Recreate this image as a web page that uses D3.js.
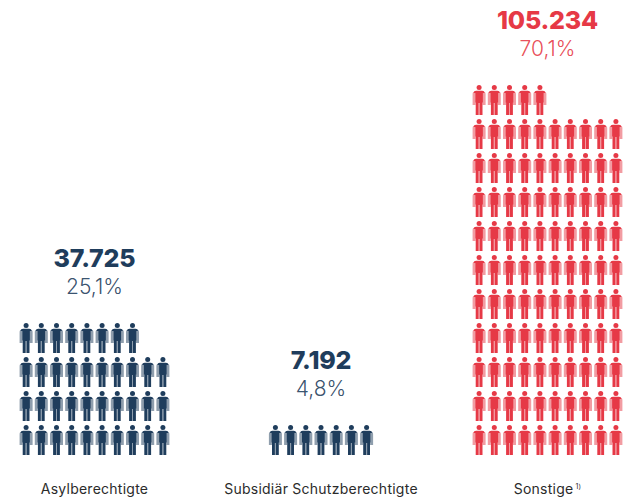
<!DOCTYPE html>
<html lang="de">
<head>
<meta charset="utf-8">
<script src="https://cdn.jsdelivr.net/npm/d3@7"></script>
<style>
  html, body { margin: 0; padding: 0; background: #fff; }
  svg { display: block; }
  text { font-family: Inter, "Noto Sans", sans-serif; text-anchor: middle; }
</style>
</head>
<body>
<svg id="chart" width="624" height="497"></svg>
<script>
// Schutzstatus: Personen je Gruppe, ein Piktogramm steht für rund 1.000 Personen
const categories = ["Asylberechtigte", "Subsidiär Schutzberechtigte", "Sonstige"];
const counts = [37725, 7192, 105234];
const countLabels = ["37.725", "7.192", "105.234"];
const shareLabels = ["25,1%", "4,8%", "70,1%"];
const groupColors = ["#1f3d5c", "#1f3d5c", "#e63946"];
const peoplePerIcon = 1000;
const iconsPerRow = 10;

const svg = d3.select("#chart");
const rowBottom = 455;   // Unterkante der untersten Piktogrammreihe
const iconH = 30, iconW = 13;

// Mittelachse je Gruppe
const groupX = d3.scalePoint().domain(d3.range(categories.length))
  .range([94.5, 547.5]);
// Position innerhalb einer Reihe und Reihenindex von unten
const colX = d3.scaleLinear().domain([0, 1]).range([0, 15.2]);
const rowY = d3.scaleLinear().domain([0, 1]).range([rowBottom - iconH, rowBottom - iconH - 34]);

// Piktogramm: helle Arme und Beinspalt, dunkler Körper mit Schulterbogen
function person(g, color) {
  g.append("path").attr("fill", color).attr("fill-opacity", 0.5)
    .attr("d", "M0 9 Q0 6.4 2.4 6.4 H3 V20 H0 Z M10 6.4 H10.6 Q13 6.4 13 9 V20 H10 Z M6 17 H7 V30 H6 Z");
  g.append("circle").attr("cx", 6.5).attr("cy", 2.5).attr("r", 2.5).attr("fill", color);
  g.append("path").attr("fill", color)
    .attr("d", "M1 8 Q1.2 5.8 3.4 5.8 H9.6 Q11.8 5.8 12 8 H10.3 V17.5 H9.9 V30 H7 V18 H6 V30 H3.1 V17.5 H2.7 V8 Z");
}

categories.forEach((cat, i) => {
  const n = Math.round(counts[i] / peoplePerIcon);
  const color = groupColors[i];
  const rows = Math.ceil(n / iconsPerRow);
  const rowLen = Math.min(n, iconsPerRow);
  // Die unterste Reihe ist um die Mittelachse der Gruppe zentriert
  const startX = groupX(i) - (colX(rowLen - 1) + iconW) / 2;

  const g = svg.append("g").attr("class", "group");
  g.selectAll("g.icon").data(d3.range(n)).join("g")
    .attr("class", "icon")
    .attr("transform", d => {
      const row = Math.floor(d / iconsPerRow), col = d % iconsPerRow;
      return `translate(${startX + colX(col)},${rowY(row)})`;
    })
    .each(function () { person(d3.select(this), color); });

  const topY = rowY(rows - 1);
  g.append("text").attr("x", groupX(i)).attr("y", topY - 56)
    .attr("font-size", 25).attr("font-weight", 800).attr("fill", color)
    .attr("letter-spacing", "-0.2").text(countLabels[i]);
  g.append("text").attr("x", groupX(i)).attr("y", topY - 29)
    .attr("font-size", 21).attr("font-weight", 300).attr("fill", color)
    .attr("fill-opacity", 0.9).text(shareLabels[i]);

  const label = g.append("text").attr("x", groupX(i)).attr("y", 494)
    .attr("font-size", 14).attr("letter-spacing", "0.25").attr("fill", "#2b2b2b").text(cat);
  if (i === 2) {
    label.append("tspan").attr("font-size", 7).attr("dy", -5).attr("dx", 2).text("1)");
  }
});
</script>
</body>
</html>
